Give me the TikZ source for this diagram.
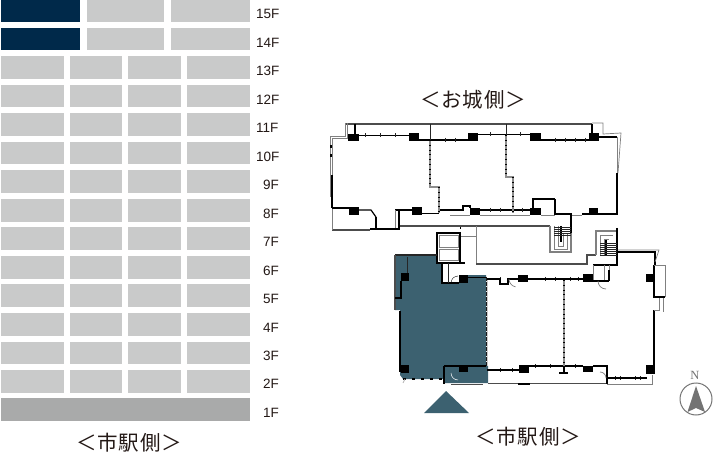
\documentclass[tikz,border=0pt]{standalone}
\usepackage{fontspec}
\setmainfont{Liberation Sans}
\newfontfamily\cjk[LetterSpace=4]{Noto Sans CJK JP}
\newfontfamily\nserif{Liberation Serif}
\definecolor{cell}{HTML}{C9CACA}
\definecolor{ground}{HTML}{A9AAAA}
\definecolor{navy}{HTML}{00294A}
\definecolor{teal}{HTML}{3C6170}
\definecolor{wallgray}{HTML}{8E8E8E}
\definecolor{txt}{HTML}{231815}
\tikzset{
  flab/.style={font=\fontsize{13.5}{13.5}\selectfont,text=txt,anchor=west,inner sep=0pt},
  side/.style={font=\cjk\fontsize{20.5}{20.5}\selectfont,text=txt,inner sep=0pt},
  wall/.style={draw=black,line width=1.2pt,line join=miter},
  hwall/.style={draw=black,line width=2pt},
  twall/.style={draw=black!85,line width=.7pt},
  gthick/.style={draw=black!70,line width=1.8pt},
  lwall/.style={draw=black!50,line width=.7pt},
  party/.style={draw=black!45,line width=1.8pt},
  dots/.style={draw=black,line width=1.8pt,dash pattern=on .8pt off 4pt},
  column/.style={fill=black,draw=none}
}
\begin{document}
\begin{tikzpicture}[x=1pt,y=-1pt]
\useasboundingbox (0,0) rectangle (714,454);
% elevation
\fill[navy] (1,0) rectangle (79.5,22);
\fill[navy] (1,28) rectangle (79.5,50.5);
\foreach \t/\b in {0/22,28/50.5}{
  \fill[cell] (87,\t) rectangle (164,\b);
  \fill[cell] (171,\t) rectangle (250,\b);
}
\foreach \i in {0,...,11}{
  \pgfmathsetmacro\t{56+\i*28.55}
  \pgfmathsetmacro\b{\t+22.8}
  \fill[cell] (1,\t) rectangle (63.5,\b);
  \fill[cell] (70,\t) rectangle (122,\b);
  \fill[cell] (128,\t) rectangle (181,\b);
  \fill[cell] (187,\t) rectangle (250,\b);
}
\fill[ground] (1,398) rectangle (250,420.5);
\foreach \f/\y in {15/14,14/42.5,13/71,12/99.5,11/128,10/156.5,9/185,8/213.5,7/242,6/270.5,5/299,4/327.5,3/355.5,2/384,1/412.5}{
  \pgfmathtruncatemacro\xx{\f>9 ? 256 : 263}
  \node[flab] (fl\f) at (\xx,\y) {\f F};
}
\node[side] (sideA) at (129,443) {＜市駅側＞};
\node[side] (sideB) at (473,100) {＜お城側＞};
\node[side] (sideC) at (528,437) {＜市駅側＞};
% teal unit
\fill[teal] (395,255) -- (437,255) -- (437,263) -- (442,263) -- (442,283) -- (459,283) -- (459,275) -- (486,275) -- (486,365) -- (488,366) -- (488,383) -- (444,383) -- (444,379) -- (403,379) -- (400,375) -- (400,310) -- (395,310) -- cycle;
\fill[teal] (424,413) -- (446,391) -- (469,413) -- cycle;
% north block outer
\draw[gthick] (345,124) -- (592,124);
\draw[lwall] (345,123) -- (345,136) -- (330,136) -- (330,197);
\draw[lwall] (347,123) -- (347,138) -- (332,138) -- (332,197);
\draw[hwall,dash pattern=on 3pt off 6pt] (331,145) -- (331,158);
\draw[gthick] (332,230) -- (370,230);
\draw[lwall] (332,208) -- (332,230);
\draw[hwall] (370,229) -- (399,229) -- (399,210);
\draw[wall] (395,210) -- (412,210);
\draw[wall] (376,217) -- (376,229);
\draw[lwall] (395,210) -- (395,228);
\draw[wall] (332,175) -- (332,208);
\draw[wall] (332,208) -- (349,208);
\draw[wall] (359,210) -- (371,210) -- (376,217);
\draw[wall] (355,124) -- (355,135);
\draw[wall] (592,124) -- (592,134);
\draw[lwall] (592,123) -- (603,123) -- (603,134) -- (621,133) -- (618,173);
% north inner walls
\draw[wall] (359,135.5) -- (409,135.5);
\draw[wall] (419,140) -- (468,140);
\draw[wall] (478,134.5) -- (530,134.5);
\draw[wall] (541,140) -- (589,140);
\draw[wall] (599,137) -- (617,137);
\draw[lwall] (617,137) -- (617,173);
\draw[hwall] (617,173) -- (617,214) -- (582,214);
\draw[lwall] (582,215) -- (572,215);
\draw[hwall] (572,214) -- (555,214) -- (555,199);
\draw[wall] (555,199) -- (533,199) -- (533,208);
\draw[wall] (422,213.5) -- (439,213.5);
\draw[wall] (438,210) -- (463,210) -- (463,206) -- (470,206) -- (470,208);
\draw[wall] (480,210) -- (530,210);
\draw[lwall] (450,215) -- (470,215);
\draw[lwall] (480,215) -- (530,215);
\draw[lwall] (541,215) -- (555,215);
% wall ticks
\foreach \x in {365,380,395}{\draw[twall] (\x,133.5) -- (\x,137.5);}
\foreach \x in {430,445,455}{\draw[twall] (\x,138) -- (\x,142);}
\foreach \x in {490,506,520}{\draw[twall] (\x,132.5) -- (\x,136.5);}
\foreach \x in {555,565,575,585}{\draw[twall] (\x,138) -- (\x,142);}
\foreach \x in {490,500,513,522}{\draw[twall] (\x,208) -- (\x,212);}
\foreach \x in {500,525,545,555,570,578}{\draw[twall] (\x,277) -- (\x,281);}
\foreach \x in {535,550,564,575}{\draw[twall] (\x,364) -- (\x,368);}
\foreach \x in {500,512}{\draw[twall] (\x,368) -- (\x,372);}
\foreach \x in {615,620,635,640}{\draw[twall] (\x,376) -- (\x,380);}
% party walls north
\draw[party] (430,140) -- (430,187) -- (439,187) -- (439,213);
\draw[dots] (430,140) -- (430,187) (439,187) -- (439,213);
\draw[party] (506,135) -- (506,177) -- (513,177) -- (513,213);
\draw[dots] (506,135) -- (506,177) (513,177) -- (513,213);
\draw[twall] (430,124) -- (430,140);
\draw[twall] (506,124) -- (506,135);
% columns north
\foreach \x/\y/\X/\Y in {348/134/359/141,409/133/419/141,468/133/478/141,530/133/541/141,589/133/599/141,349/207/359/215,412/207/422/215,470/208/480/215,530/208/541/215,589/208/598/214}{
  \fill[column] (\x,\y) rectangle (\X,\Y);
}
% corridor
\draw[gthick] (400,226) -- (550,226);
\draw[lwall,line width=1pt] (476,226) -- (476,264);
\draw[gthick] (476,264) -- (587,264) -- (587,255) -- (596,255);
\draw[lwall] (460,236) -- (476,236);
\draw[draw=black,line width=1pt,dash pattern=on 2pt off 3pt] (460,227) -- (460,257);
% stair 1
\draw[draw=black!50,line width=1.2pt] (550,226) -- (550,252) -- (571,252) -- (571,233);
\draw[lwall] (554,226) -- (554,249) -- (567,249) -- (567,233);
\draw[lwall] (558,226) -- (558,246) -- (563,246) -- (563,233);
\draw[hwall] (571,215) -- (571,233);
\draw[hwall] (560.5,226) -- (560.5,242);
\foreach \y in {227,229,...,235}{\draw[twall] (554,\y) -- (571,\y);}
% stair 2
\draw[draw=black!50,line width=1.2pt] (596,255) -- (596,231) -- (617,231);
\draw[lwall] (600,255) -- (600,235) -- (613,235);
\draw[lwall] (604,255) -- (604,239) -- (609,239);
\draw[hwall] (617,228) -- (617,265) -- (593,265);
\draw[hwall] (606,240) -- (606,256);
\foreach \y in {243,245,...,255}{\draw[twall] (600,\y) -- (617,\y);}
% elevator
\draw[hwall] (437,233) rectangle (460,263);
\draw[hwall] (437,263) -- (465,263);
\draw[lwall] (439,235) rectangle (458,247);
\draw[lwall] (439,249) rectangle (458,260);
% teal walls
\draw[draw=black!85,line width=1.8pt] (395,255) -- (437,255);
\draw[draw=black!70,line width=1.4pt] (395,255) -- (395,310);
\draw[hwall] (400,311) -- (400,372);
\draw[twall] (407,257) -- (407,273);
\draw[wall] (401,281) -- (401,298) -- (395,298);
\draw[wall] (442,263) -- (442,283) -- (459,283);
\draw[twall] (448,263) -- (448,283);
\draw[draw=black,line width=.4pt] (451,283) arc (180:270:7);
\draw[draw=black!90,line width=1pt,dash pattern=on 4pt off 1pt] (486,277) -- (486,366);
\draw[draw=white!80!black,line width=.7pt] (487.5,280) -- (487.5,366);
\draw[hwall] (444,366) -- (444,384);
\draw[wall] (444,366) -- (486,366);
\draw[wall] (468,277.5) -- (486,277.5);
\draw[draw=black,dash pattern=on 3pt off 6pt,line width=1.5pt] (403,379) -- (444,379);
\draw[draw=white!70!black,line width=.7pt] (403,383) -- (405,379);
\draw[draw=black!70,line width=.8pt] (451,384) -- (483,384);
\draw[draw=white,line width=.5pt] (451,373) arc (180:90:7);
% east block
\draw[wall] (487,279) -- (500,279) -- (500,284) -- (508,284) -- (508,279) -- (518,279);
\draw[wall] (528,279) -- (583,279);
\draw[lwall] (509,279) arc (180:100:8);
\draw[wall] (487,370) -- (519,370);
\draw[wall] (529,366) -- (583,366);
\draw[hwall] (518,384) -- (530,384);
\draw[gthick] (488,383.5) -- (518,383.5);
\draw[gthick] (530,383.5) -- (607,383.5);
\draw[wall] (593,366) -- (607,366) -- (607,384);
\draw[wall] (607,378) -- (647,378);
\draw[lwall] (607,384) -- (652,384) -- (652,375);
\draw[hwall] (654,310) -- (654,365);
\draw[lwall] (659,297) -- (659,310) -- (654,310);
\draw[lwall] (663,297) -- (663,312);
\draw[hwall] (654,265) -- (654,297) -- (665,297);
\draw[lwall,line width=1pt] (665,297) -- (665,265) -- (654,265);
\draw[wall] (618,252) -- (655,252) -- (655,265);
\draw[lwall] (618,250) -- (659,250) -- (655,262);
\draw[lwall] (593,265) -- (593,281);
\draw[lwall] (609,265) -- (609,280);
\draw[wall] (593,281) -- (609,281);
\draw[wall] (609,270) -- (609,281);
\draw[lwall] (604,265) -- (604,280);
\draw[lwall] (598,281) arc (180:90:8);
\draw[lwall] (600,372) arc (270:360:6);
% east party
\draw[party] (564,280) -- (564,373);
\draw[dots] (564,280) -- (564,373);
\draw[wall] (564,366) -- (564,373);
\draw[wall] (559,373) -- (568,373);
% columns east
\foreach \x/\y/\X/\Y in {518/275/528/282,519/365/529/373,583/274/593/282,583/366/593/372,646/274/654/282,646/365/655/374,401/273/409/281,401/365/409/373,459/275/468/283,459/366/468/372}{
  \fill[column] (\x,\y) rectangle (\X,\Y);
}
% compass
\draw[draw=black!55,line width=1pt] (696,399) circle (16);
\fill[black!55] (696,386) -- (705,412) -- (696,408) -- (687.5,412) -- cycle;
\node[inner sep=0pt,text=black!55,font=\nserif\fontsize{12.5}{12.5}\selectfont] (north) at (695,375) {N};
\end{tikzpicture}
\end{document}
